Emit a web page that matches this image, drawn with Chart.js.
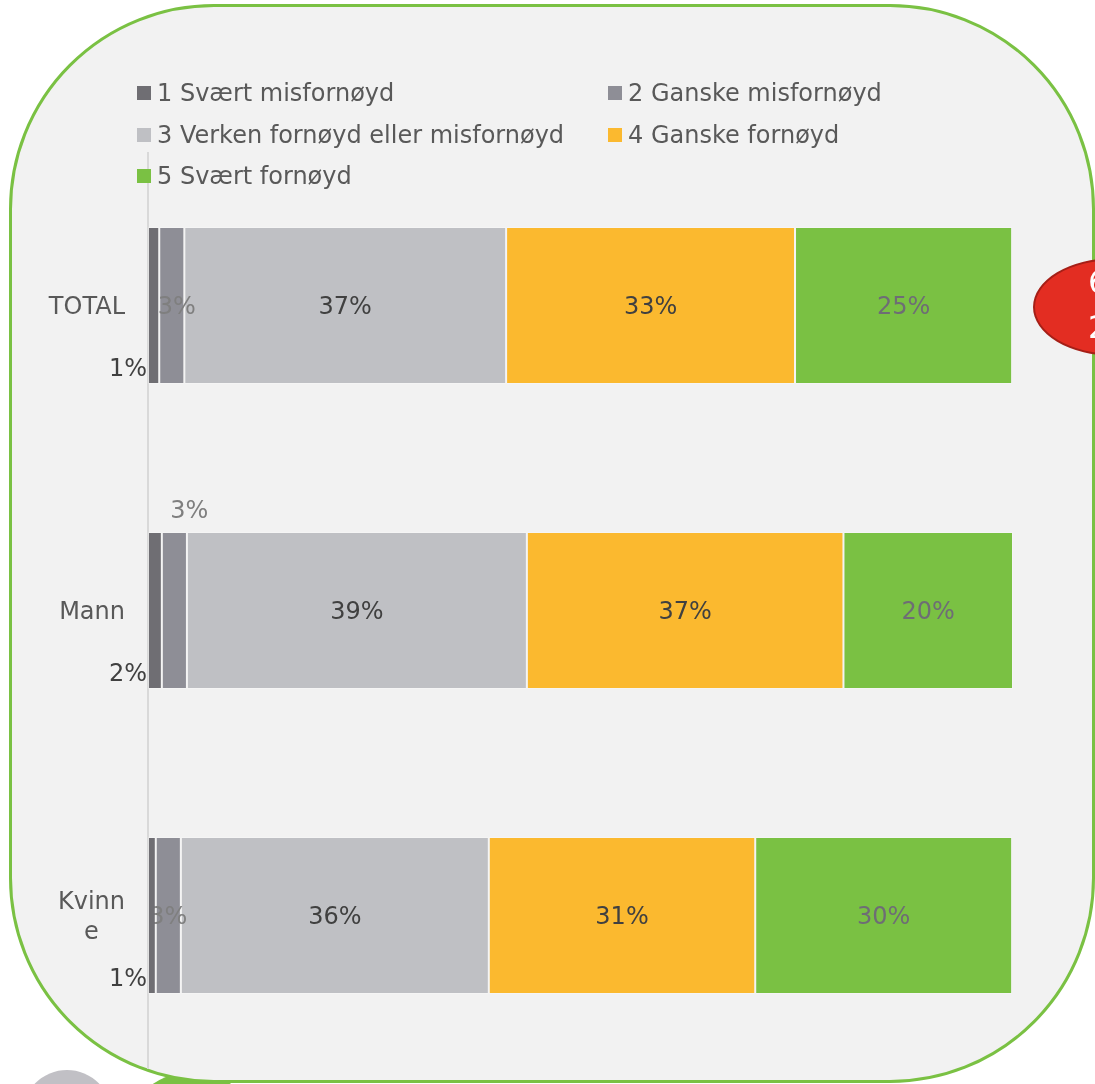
<!DOCTYPE html>
<html>
<head>
<meta charset="utf-8">
<script src="https://cdn.jsdelivr.net/npm/chart.js@4/dist/chart.umd.min.js"></script>
<style>
  html, body { margin: 0; padding: 0; background: #fff; }
  body { width: 1095px; height: 1084px; position: relative; overflow: hidden; font-family: "DejaVu Sans", Verdana, sans-serif; }
  .dot { position: absolute; border-radius: 50%; }
  #box { position: absolute; left: 9px; top: 4px; width: 1080px; height: 1073px; background: #f2f2f2; border: 3px solid #7ac143; border-radius: 205px; }
  #chart { position: absolute; left: 0; top: 0; }
  .leg { position: absolute; font-size: 24px; color: #595959; line-height: 28px; white-space: nowrap; }
  .leg span { display: inline-block; width: 14px; height: 14px; margin-right: 6px; vertical-align: 1px; }
  #badge { position: absolute; left: 1033px; top: 258px; width: 160px; height: 94px; border-radius: 50%; background: #e32d22; border: 2px solid #a51f17; color: #fff; font-size: 32px; line-height: 45px; }
  #badge div { padding-left: 53px; }
</style>
</head>
<body>
<div class="dot" style="left:22px;top:1070px;width:90px;height:90px;background:#c1c0c5"></div>
<div class="dot" style="left:122px;top:1072px;width:140px;height:140px;background:#7ac143"></div>
<div id="box"></div>
<canvas id="chart" width="1095" height="1084"></canvas>
<div id="legend"></div>
<div id="badge"><div>6</div><div>2</div></div>
<script>
const categories = [['TOTAL'], ['Mann'], ['Kvinn', 'e']];
const seriesNames = ['1 Svært misfornøyd', '2 Ganske misfornøyd', '3 Verken fornøyd eller misfornøyd', '4 Ganske fornøyd', '5 Svært fornøyd'];
const seriesColors = ['#6f6e73', '#8e8e96', '#bfc0c4', '#fbb92f', '#7ac143'];
const labelColors = ['#404040', '#7f7f7f', '#404040', '#404040', '#6e6d75'];

const svaertMis = [1.3, 1.6, 0.9];
const ganskeMis = [2.9, 2.9, 2.9];
const verken = [37.2, 39.3, 35.6];
const ganskeForn = [33.4, 36.6, 30.8];
const svaertForn = [25.1, 19.6, 29.7];
const series = [svaertMis, ganskeMis, verken, ganskeForn, svaertForn];

// legend, two columns like the original
const legend = document.getElementById('legend');
seriesNames.forEach((name, i) => {
  const d = document.createElement('div');
  d.className = 'leg';
  d.style.left = (i % 2 === 0 ? 137 : 608) + 'px';
  d.style.top = (79 + Math.floor(i / 2) * 41.5) + 'px';
  d.innerHTML = '<span style="background:' + seriesColors[i] + '"></span>' + name;
  legend.appendChild(d);
});

const FONT = '24px "DejaVu Sans", Verdana, sans-serif';

const barLabels = {
  id: 'barLabels',
  afterDatasetDraw(chart, args) {
    const ctx = chart.ctx;
    const i = args.index;
    const meta = args.meta;
    ctx.save();
    ctx.font = FONT;
    ctx.fillStyle = labelColors[i];
    ctx.textBaseline = 'middle';
    meta.data.forEach((bar, j) => {
      const p = bar.getProps(['x', 'y', 'base', 'height'], true);
      const txt = Math.round(series[i][j]) + '%';
      if (i === 0) {
        ctx.textAlign = 'right';
        ctx.fillText(txt, p.base - 1, p.y + p.height / 2 - 14);
      } else if (i === 1 && j === 1) {
        ctx.textAlign = 'center';
        ctx.fillText(txt, (p.x + p.base) / 2 + 15, p.y - p.height / 2 - 20);
      } else {
        ctx.textAlign = 'center';
        ctx.fillText(txt, (p.x + p.base) / 2 + (i === 1 && j === 0 ? 5 : 0), p.y + 2);
      }
    });
    ctx.restore();
  }
};

const catLabels = {
  id: 'catLabels',
  afterDraw(chart) {
    const ctx = chart.ctx;
    const y = chart.scales.y;
    ctx.save();
    ctx.font = FONT;
    ctx.fillStyle = '#595959';
    ctx.textAlign = 'center';
    ctx.textBaseline = 'middle';
    categories.forEach((lines, j) => {
      const w = Math.max(...lines.map(l => ctx.measureText(l).width));
      const cx = 125 - w / 2;
      const cy = y.getPixelForValue(j) + 2;
      lines.forEach((l, k) => {
        ctx.fillText(l, cx, cy + (k - (lines.length - 1) / 2) * 30);
      });
    });
    ctx.restore();
  }
};

new Chart(document.getElementById('chart'), {
  type: 'bar',
  data: {
    labels: categories.map(c => c.join('')),
    datasets: series.map((d, i) => ({
      label: seriesNames[i],
      data: d,
      backgroundColor: seriesColors[i],
      borderColor: 'rgba(255,255,255,0.22)',
      borderWidth: 1,
      borderSkipped: false,
      barPercentage: 0.515,
      categoryPercentage: 1
    }))
  },
  options: {
    indexAxis: 'y',
    responsive: false,
    animation: false,
    devicePixelRatio: 1,
    layout: { padding: { left: 148, right: 82, top: 153, bottom: 16 } },
    plugins: { legend: { display: false }, tooltip: { enabled: false } },
    scales: {
      x: { stacked: true, min: 0, max: 100, display: false },
      y: {
        stacked: true,
        ticks: { display: false },
        grid: { display: false, drawTicks: false },
        border: { display: true, color: '#d9d9d9', width: 2 }
      }
    }
  },
  plugins: [barLabels, catLabels]
});
</script>
</body>
</html>
